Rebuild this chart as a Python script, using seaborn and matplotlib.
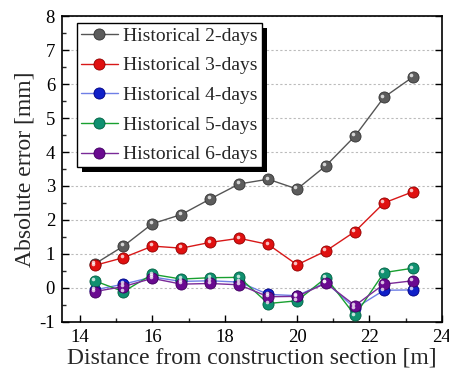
import numpy as np
import pandas as pd
import matplotlib
matplotlib.use("Agg")
import matplotlib.pyplot as plt
import matplotlib.transforms as mtransforms
import matplotlib.patheffects as pe
from matplotlib.ticker import MultipleLocator
import seaborn as sns

# Distance from construction section [m]
distance = [14.4, 15.2, 16.0, 16.8, 17.6, 18.4, 19.2, 20.0, 20.8, 21.6, 22.4, 23.2]

# Absolute error [mm] for each historical window
hist_2 = [0.70, 1.23, 1.89, 2.16, 2.62, 3.06, 3.20, 2.91, 3.60, 4.47, 5.61, 6.21]
hist_3 = [0.66, 0.89, 1.23, 1.17, 1.34, 1.46, 1.28, 0.68, 1.09, 1.66, 2.50, 2.83]
hist_4 = [-0.06, 0.11, 0.32, 0.19, 0.21, 0.17, -0.19, -0.23, 0.16, -0.60, -0.07, -0.06]
hist_5 = [0.21, -0.11, 0.40, 0.26, 0.30, 0.31, -0.46, -0.38, 0.30, -0.81, 0.45, 0.58]
hist_6 = [-0.11, 0.04, 0.28, 0.11, 0.13, 0.09, -0.26, -0.25, 0.14, -0.52, 0.11, 0.21]

labels = ["Historical 2-days", "Historical 3-days", "Historical 4-days",
          "Historical 5-days", "Historical 6-days"]
series = [hist_2, hist_3, hist_4, hist_5, hist_6]

line_colors = ["#555555", "#d81818", "#6f7fe6", "#18a030", "#7a2a98"]
marker_colors = ["#5c5c5c", "#e01010", "#1020c8", "#109070", "#6a0a90"]
edge_colors = ["#333333", "#900000", "#000080", "#006040", "#400060"]

df = pd.DataFrame({
    "distance": np.tile(distance, len(series)),
    "error": np.concatenate(series),
    "series": np.repeat(labels, len(distance)),
})

sns.set_theme(style="ticks")
plt.rcParams["font.family"] = ["Liberation Serif", "DejaVu Serif"]
plt.rcParams["axes.unicode_minus"] = False

fig = plt.figure(figsize=(4.49, 3.76), dpi=100)
ax = fig.add_axes([0.138, 0.144, 0.846, 0.813])

for lab, lc, mc, ec in zip(labels, line_colors, marker_colors, edge_colors):
    sub = df[df["series"] == lab]
    sns.lineplot(data=sub, x="distance", y="error", ax=ax, color=lc,
                 linewidth=1.0, marker="o", markersize=8, markerfacecolor=mc,
                 markeredgecolor=ec, markeredgewidth=0.6, label=lab,
                 legend=False, zorder=3)
    # small specular highlight on each ball
    hl = mtransforms.offset_copy(ax.transData, fig=fig, x=-1.2, y=1.2, units="points")
    ax.plot(sub["distance"], sub["error"], linestyle="none", marker="o",
            markersize=2.6, markerfacecolor="white", markeredgewidth=0,
            alpha=0.75, transform=hl, zorder=4)

ax.set_xlim(13.5, 24)
ax.set_ylim(-1, 8)
ax.xaxis.set_major_locator(MultipleLocator(2))
ax.xaxis.set_minor_locator(MultipleLocator(1))
ax.yaxis.set_major_locator(MultipleLocator(1))
ax.yaxis.set_minor_locator(MultipleLocator(0.5))

ax.tick_params(axis="both", which="major", direction="in", length=5, width=1,
               labelsize=13.5, colors="black", pad=5)
ax.tick_params(axis="both", which="minor", direction="in", length=3, width=1)
ax.tick_params(axis="y", which="major", right=True)
ax.tick_params(axis="y", which="minor", right=False)

for sp in ax.spines.values():
    sp.set_linewidth(1.2)
    sp.set_color("black")

ax.yaxis.grid(True, which="major", linestyle=(0, (2, 2)), color="#bbbbbb",
              linewidth=0.8)
ax.set_axisbelow(True)

ax.set_xlabel("Distance from construction section [m]", fontsize=17, labelpad=1)
ax.set_ylabel("Absolute error [mm]", fontsize=17, labelpad=3)

handles = []
for lc, mc, ec in zip(line_colors, marker_colors, edge_colors):
    h, = ax.plot([], [], color=lc, linewidth=1.0, marker="o", markersize=8,
                 markerfacecolor=mc, markeredgecolor=ec, markeredgewidth=0.6)
    handles.append(h)

leg = ax.legend(handles, labels, loc="upper left", bbox_to_anchor=(0.039, 0.977),
                fontsize=14, frameon=True, fancybox=False, framealpha=1,
                edgecolor="black", handlelength=1.9, handletextpad=0.3,
                labelspacing=0.62, borderpad=0.2, borderaxespad=0.0)
frame = leg.get_frame()
frame.set_linewidth(1.0)
frame.set_path_effects([pe.SimplePatchShadow(offset=(3.5, -3.5), shadow_rgbFace="black",
                                             alpha=1.0), pe.Normal()])

fig.savefig("out.png", dpi=100)
